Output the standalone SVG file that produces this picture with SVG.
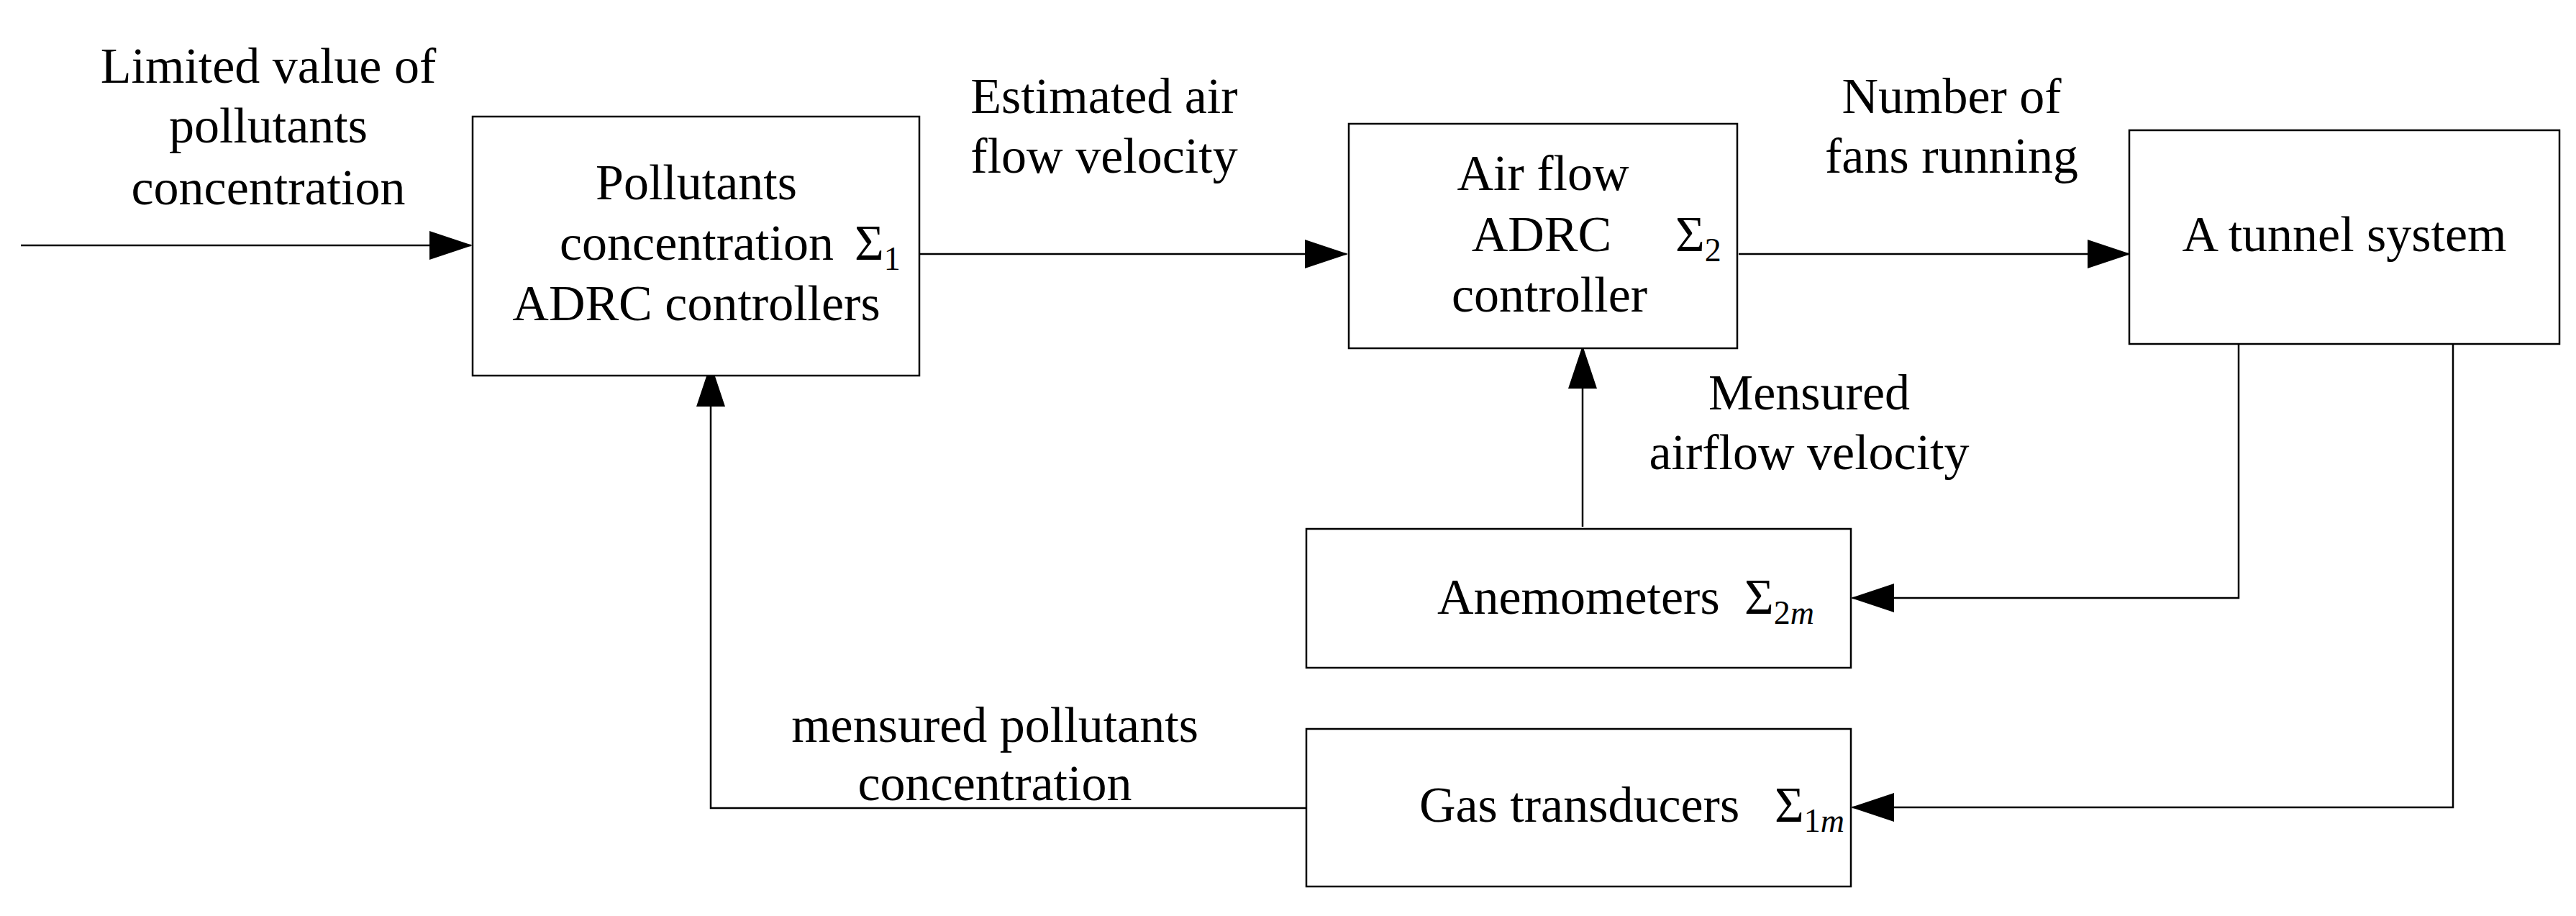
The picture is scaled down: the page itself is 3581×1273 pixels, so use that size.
<svg xmlns="http://www.w3.org/2000/svg" width="3581" height="1273" viewBox="0 0 3581 1273">
<style>
text{font-family:"Liberation Serif","Times New Roman",serif;font-size:70px;fill:#000}
.m{text-anchor:middle}
.s{font-size:46px}
.i{font-style:italic}
rect{fill:#fff;stroke:#000;stroke-width:2.5}
#conn path{fill:none;stroke:#000;stroke-width:2.5}
</style>
<defs>
<marker id="a" viewBox="0 0 60 40" refX="58" refY="20" markerWidth="60" markerHeight="40" markerUnits="userSpaceOnUse" orient="auto">
<path d="M0,0 L60,20 L0,40 Z" fill="#000"/>
</marker>
</defs>
<g id="conn">
<path d="M29,341 H655" marker-end="url(#a)"/>
<path d="M1278,353 H1872" marker-end="url(#a)"/>
<path d="M2417,353 H2960" marker-end="url(#a)"/>
<path d="M2200,732 V482" marker-end="url(#a)"/>
<path d="M3112,478 V831 H2575" marker-end="url(#a)"/>
<path d="M3410,478 V1122 H2575" marker-end="url(#a)"/>
<path d="M1816,1123 H988 V507" marker-end="url(#a)"/>
</g>
<g id="lbl-limit">
<text class="m" x="373" y="115">Limited value of</text>
<text class="m" x="373" y="198">pollutants</text>
<text class="m" x="373" y="284">concentration</text>
</g>
<g id="lbl-est">
<text class="m" x="1535" y="157">Estimated air</text>
<text class="m" x="1535" y="240">flow velocity</text>
</g>
<g id="lbl-fans">
<text class="m" x="2713" y="157">Number of</text>
<text class="m" x="2713" y="240">fans running</text>
</g>
<g id="lbl-mair">
<text class="m" x="2515" y="569">Mensured</text>
<text class="m" x="2515" y="652">airflow velocity</text>
</g>
<g id="lbl-mpol">
<text class="m" x="1383" y="1031">mensured pollutants</text>
<text class="m" x="1383" y="1112">concentration</text>
</g>
<g id="box1">
<rect x="657" y="162" width="621" height="360"/>
<text class="m" x="968" y="277">Pollutants</text>
<text x="778" y="361">concentration</text>
<text x="1188" y="361">Σ<tspan class="s" dy="14">1</tspan></text>
<text class="m" x="968" y="445">ADRC controllers</text>
</g>
<g id="box2">
<rect x="1875" y="172" width="540" height="312"/>
<text class="m" x="2145" y="264">Air flow</text>
<text class="m" x="2143" y="349">ADRC</text>
<text x="2329" y="349">Σ<tspan class="s" dy="14">2</tspan></text>
<text class="m" x="2154" y="433">controller</text>
</g>
<g id="tunnel">
<rect x="2960" y="181" width="598" height="297"/>
<text class="m" x="3259" y="349">A tunnel system</text>
</g>
<g id="anemometers">
<rect x="1816" y="735" width="757" height="193"/>
<text x="1998" y="853">Anemometers</text>
<text x="2425" y="853">Σ<tspan class="s" dy="14">2</tspan><tspan class="s i">m</tspan></text>
</g>
<g id="gas">
<rect x="1816" y="1013" width="757" height="219"/>
<text x="1973" y="1142">Gas transducers</text>
<text x="2467" y="1142">Σ<tspan class="s" dy="14">1</tspan><tspan class="s i">m</tspan></text>
</g>
</svg>
